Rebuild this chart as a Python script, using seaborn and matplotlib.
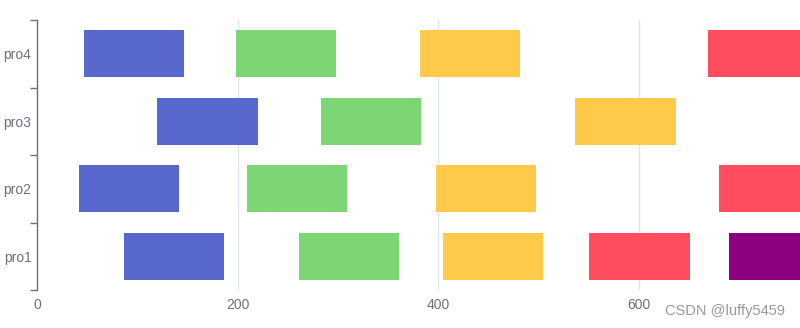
import matplotlib
matplotlib.use("Agg")
import matplotlib.pyplot as plt
import seaborn as sns

categories = ["pro1", "pro2", "pro3", "pro4"]
# task start values per project (each task lasts `duration`)
blue_start = [87, 42, 120, 47]
green_start = [261, 209, 283, 198]
yellow_start = [405, 398, 537, 382]
red_start = [551, 680, None, 669]
purple_start = [690, None, None, None]
duration = 100
x_ticks = [0, 200, 400, 600]

series = [
    (blue_start, "#5767CB"),
    (green_start, "#7CD674"),
    (yellow_start, "#FFC94A"),
    (red_start, "#FF4D5E"),
    (purple_start, "#8C0082"),
]

sns.set_theme(style="white")
plt.rcParams["font.family"] = ["Liberation Sans", "DejaVu Sans"]

fig = plt.figure(figsize=(8, 3.28), dpi=100)
ax = fig.add_axes([37 / 800, 1 - 290 / 328, 1 - 37 / 800, 270 / 328])

ypos = list(range(len(categories)))
for starts, color in series:
    ys = [y for y, s in zip(ypos, starts) if s is not None]
    ls = [s for s in starts if s is not None]
    ax.barh(ys, [duration] * len(ls), left=ls, height=0.7, color=color,
            edgecolor="none", zorder=3)

ax.set_xlim(0, 761)
ax.set_ylim(-0.5, len(categories) - 0.5)
ax.set_xticks(x_ticks)
ax.set_xticklabels([str(t) for t in x_ticks])
ax.set_yticks(ypos)
ax.set_yticklabels(categories)
ax.set_yticks([y - 0.5 for y in range(len(categories) + 1)], minor=True)

for t in x_ticks[1:]:
    ax.axvline(t, color="#E0E6F1", lw=1, zorder=1)

for s in ["top", "right", "bottom"]:
    ax.spines[s].set_visible(False)
ax.spines["left"].set_color("#6E7079")
ax.spines["left"].set_linewidth(1)

ax.tick_params(axis="y", which="major", length=0, pad=4, labelsize=10, labelcolor="#6E7079")
ax.tick_params(axis="y", which="minor", left=True, length=5, width=1, color="#6E7079")
ax.tick_params(axis="x", length=0, pad=6, labelsize=10, labelcolor="#6E7079")

fig.text(785 / 800, 1 - 318 / 328, "CSDN @luffy5459", ha="right", va="bottom",
         fontsize=10.5, color="#999999")

fig.savefig("out.png", dpi=100)
